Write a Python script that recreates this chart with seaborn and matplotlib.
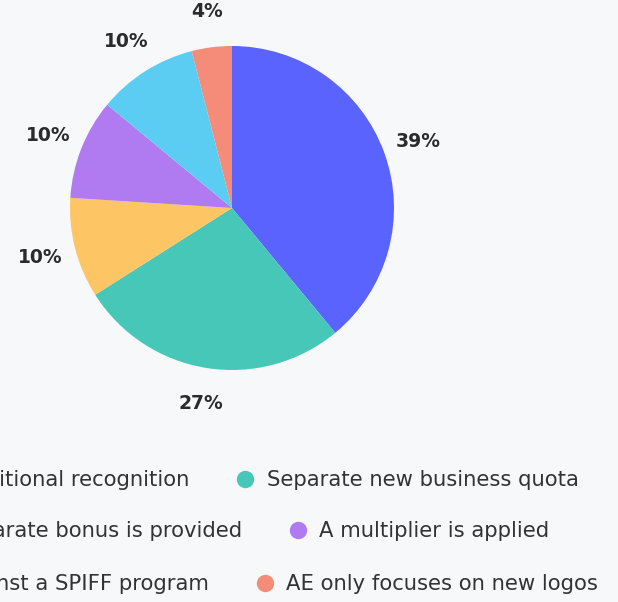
import matplotlib
matplotlib.use("Agg")
import matplotlib.pyplot as plt
from matplotlib.lines import Line2D
import seaborn as sns

categories = ["No additional recognition", "Separate new business quota",
              "Separate bonus is provided", "A multiplier is applied",
              "Run against a SPIFF program", "AE only focuses on new logos"]
shares = [39, 27, 10, 10, 10, 4]
colors = ["#5b63fe", "#47c7b7", "#fec565", "#b07af1", "#5bcdf3", "#f58c79"]

bg = "#f7f8fa"
sns.set_theme(style="white")
plt.rcParams["font.family"] = ["DejaVu Sans"]

W, H = 618, 602
fig = plt.figure(figsize=(W / 100, H / 100), dpi=100, facecolor=bg)

# pie: centre (232, 208) px, radius 162 px
cx, cy, r = 232, 208, 162
ax = fig.add_axes([(cx - r) / W, (H - cy - r) / H, 2 * r / W, 2 * r / H])
ax.set_facecolor(bg)
wedges, texts, autotexts = ax.pie(
    shares, colors=colors, startangle=90, counterclock=False,
    autopct=lambda p: f"{p:.0f}%", pctdistance=1.22,
    wedgeprops=dict(linewidth=0),
    textprops=dict(fontsize=13.5, fontweight="bold", color="#2b2b2b"))
ax.set_xlim(-1, 1)
ax.set_ylim(-1, 1)
ax.axis("off")

# legend, centred rows of two (flow layout, runs off the left edge)
rows = [(0, 1), (2, 3), (4, 5)]
row_y = [480, 531, 584]
for (i, j), y in zip(rows, row_y):
    handles = [Line2D([], [], linestyle="none", marker="o", markersize=12.5,
                      markerfacecolor=colors[k], markeredgewidth=0)
               for k in (i, j)]
    leg = fig.legend(handles, [categories[i], categories[j]], ncol=2,
                     loc="center", bbox_to_anchor=(236 / W, 1 - y / H),
                     frameon=False, fontsize=15.2, handlelength=0.9,
                     handletextpad=0.55, columnspacing=2.2, borderpad=0,
                     labelcolor="#333333")

fig.savefig("out.png", dpi=100, facecolor=bg)
